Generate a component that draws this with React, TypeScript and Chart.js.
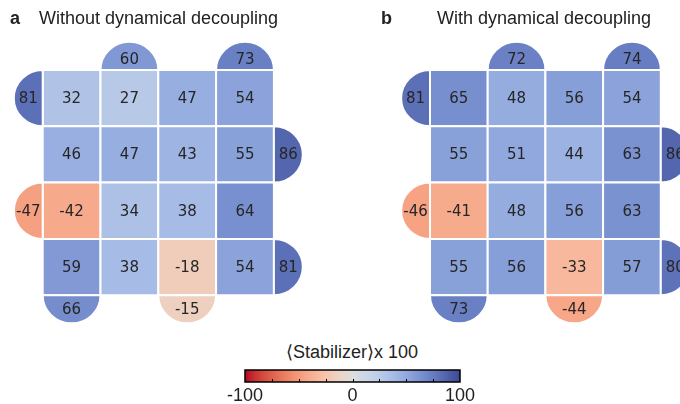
import React, { useEffect, useRef } from 'react';
import { Chart, registerables } from 'chart.js';

Chart.register(...registerables);

// ---- data ----
const GRID_A = [
  [32, 27, 47, 54],
  [46, 47, 43, 55],
  [-42, 34, 38, 64],
  [59, 38, -18, 54],
];
const TOP_A = [60, 73];
const LEFT_A = [81, -47];
const RIGHT_A = [86, 81];
const BOTTOM_A = [66, -15];

const GRID_B = [
  [65, 48, 56, 54],
  [55, 51, 44, 63],
  [-41, 48, 56, 63],
  [55, 56, -33, 57],
];
const TOP_B = [72, 74];
const LEFT_B = [81, -46];
const RIGHT_B = [86, 80];
const BOTTOM_B = [73, -44];

const TOP_COLS = [1, 3];
const LEFT_ROWS = [0, 2];
const RIGHT_ROWS = [1, 3];
const BOTTOM_COLS = [0, 2];

const CB_TICKS = [-100, -75, -50, -25, 0, 25, 50, 75, 100];
const CB_LABELS = [-100, 0, 100];

// ---- colormap (coolwarm reversed, blues muted as in the print) ----
const CW: number[][] = [
  [59, 76, 192], [68, 90, 204], [77, 104, 215], [87, 117, 225], [98, 130, 234],
  [108, 142, 241], [119, 154, 247], [130, 165, 251], [141, 176, 254], [152, 185, 255],
  [163, 194, 255], [174, 201, 253], [184, 208, 249], [194, 213, 244], [204, 217, 238],
  [213, 219, 230], [221, 221, 221], [229, 216, 209], [236, 211, 197], [241, 204, 185],
  [245, 196, 173], [247, 187, 160], [247, 177, 148], [247, 166, 135], [244, 154, 123],
  [241, 141, 111], [236, 127, 99], [229, 112, 88], [222, 96, 77], [213, 80, 66],
  [203, 62, 56], [192, 40, 47], [180, 4, 38],
];

function coolwarm(t: number): number[] {
  const tt = Math.max(0, Math.min(1, t)) * 32;
  const i = Math.min(31, Math.floor(tt));
  const f = tt - i;
  return [0, 1, 2].map((k) => CW[i][k] + (CW[i + 1][k] - CW[i][k]) * f);
}

function colorFor(v: number): string {
  let [r, g, b] = coolwarm((100 - v) / 200);
  if (v > 0) {
    const w = Math.min(1, v / 25);
    const s = 1 - 0.3 * w;
    const d = 1 - 0.07 * (v / 100);
    const lum = 0.299 * r + 0.587 * g + 0.114 * b;
    r = (lum + (r - lum) * s) * d;
    g = (lum + (g - lum) * s) * d;
    b = (lum + (b - lum) * s) * d;
  }
  return `rgb(${Math.round(r)},${Math.round(g)},${Math.round(b)})`;
}

type Pt = { x: number; y: number; v: number; side: string };

function buildPoints(grid: number[][], top: number[], left: number[], right: number[], bottom: number[]): Pt[] {
  const pts: Pt[] = [];
  grid.forEach((row, r) => row.forEach((v, c) => pts.push({ x: c + 0.5, y: r + 0.5, v, side: 'sq' })));
  top.forEach((v, i) => pts.push({ x: TOP_COLS[i] + 0.5, y: 0, v, side: 'top' }));
  left.forEach((v, i) => pts.push({ x: 0, y: LEFT_ROWS[i] + 0.5, v, side: 'left' }));
  right.forEach((v, i) => pts.push({ x: grid[0].length, y: RIGHT_ROWS[i] + 0.5, v, side: 'right' }));
  bottom.forEach((v, i) => pts.push({ x: BOTTOM_COLS[i] + 0.5, y: grid.length, v, side: 'bottom' }));
  return pts;
}

const cellPlugin = {
  id: 'cells',
  afterDatasetsDraw(chart: any) {
    const ctx = chart.ctx;
    const xs = chart.scales.x;
    const ys = chart.scales.y;
    const w = xs.getPixelForValue(1) - xs.getPixelForValue(0);
    const h = ys.getPixelForValue(1) - ys.getPixelForValue(0);
    const pts: Pt[] = chart.data.datasets[0].data;
    ctx.save();
    pts.forEach((p) => {
      const px = xs.getPixelForValue(p.x);
      const py = ys.getPixelForValue(p.y);
      ctx.beginPath();
      if (p.side === 'sq') ctx.rect(px - w / 2, py - h / 2, w, h);
      else if (p.side === 'top') ctx.ellipse(px, py, w / 2, h / 2, 0, Math.PI, 2 * Math.PI);
      else if (p.side === 'bottom') ctx.ellipse(px, py, w / 2, h / 2, 0, 0, Math.PI);
      else if (p.side === 'left') ctx.ellipse(px, py, w / 2, h / 2, 0, Math.PI / 2, (3 * Math.PI) / 2);
      else ctx.ellipse(px, py, w / 2, h / 2, 0, -Math.PI / 2, Math.PI / 2);
      ctx.closePath();
      ctx.fillStyle = colorFor(p.v);
      ctx.fill();
      ctx.strokeStyle = '#ffffff';
      ctx.lineWidth = 2;
      ctx.stroke();
    });
    ctx.fillStyle = '#262626';
    ctx.font = '15px "DejaVu Sans"';
    ctx.textAlign = 'center';
    ctx.textBaseline = 'middle';
    pts.forEach((p) => {
      let px = xs.getPixelForValue(p.x);
      let py = ys.getPixelForValue(p.y);
      if (p.side === 'top') py -= h * 0.2;
      else if (p.side === 'bottom') py += h * 0.24;
      else if (p.side === 'left') px -= w * 0.25;
      else if (p.side === 'right') px += w * 0.25;
      ctx.fillText(String(p.v), px, py + 1);
    });
    ctx.restore();
  },
};

const colorbarPlugin = {
  id: 'colorbar',
  afterDatasetsDraw(chart: any) {
    const ctx = chart.ctx;
    const xs = chart.scales.x;
    const area = chart.chartArea;
    const x0 = xs.getPixelForValue(-100);
    const x1 = xs.getPixelForValue(100);
    const grad = ctx.createLinearGradient(x0, 0, x1, 0);
    for (let v = -100; v <= 100; v += 5) grad.addColorStop((v + 100) / 200, colorFor(v));
    ctx.save();
    ctx.fillStyle = grad;
    ctx.fillRect(x0, area.top, x1 - x0, area.bottom - area.top);
    ctx.strokeStyle = '#000';
    ctx.lineWidth = 1;
    CB_TICKS.forEach((v) => {
      if (v === -100 || v === 100) return;
      const x = Math.round(xs.getPixelForValue(v)) + 0.5;
      ctx.beginPath();
      ctx.moveTo(x, area.bottom);
      ctx.lineTo(x, area.bottom - 3);
      ctx.stroke();
    });
    ctx.lineWidth = 1.5;
    ctx.strokeRect(x0, area.top, x1 - x0, area.bottom - area.top);
    ctx.restore();
  },
};

function Panel(props: { grid: number[][]; top: number[]; left: number[]; right: number[]; bottom: number[]; x0: number; cw: number; style: any }) {
  const ref = useRef<HTMLCanvasElement>(null);
  useEffect(() => {
    const W = 340, H = 330, Y0 = 70, CH = 56.3;
    const chart = new Chart(ref.current as HTMLCanvasElement, {
      type: 'scatter',
      data: {
        datasets: [{ data: buildPoints(props.grid, props.top, props.left, props.right, props.bottom) as any, pointRadius: 0 }],
      },
      options: {
        responsive: false,
        animation: false,
        devicePixelRatio: 1,
        layout: { padding: 0 },
        plugins: { legend: { display: false }, tooltip: { enabled: false } },
        scales: {
          x: { type: 'linear', display: false, min: -props.x0 / props.cw, max: (W - props.x0) / props.cw },
          y: { type: 'linear', display: false, reverse: true, min: -Y0 / CH, max: (H - Y0) / CH },
        },
      },
      plugins: [cellPlugin],
    });
    return () => chart.destroy();
  }, []);
  return <canvas ref={ref} width={340} height={330} style={{ position: 'absolute', ...props.style }} />;
}

function Colorbar() {
  const ref = useRef<HTMLCanvasElement>(null);
  useEffect(() => {
    const chart = new Chart(ref.current as HTMLCanvasElement, {
      type: 'scatter',
      data: { datasets: [{ data: [], pointRadius: 0 }] },
      options: {
        responsive: false,
        animation: false,
        devicePixelRatio: 1,
        layout: { padding: { left: 45, right: 40, top: 5, bottom: 0 } },
        plugins: { legend: { display: false }, tooltip: { enabled: false } },
        scales: {
          x: {
            type: 'linear',
            min: -100,
            max: 100,
            afterBuildTicks: (s: any) => {
              s.ticks = CB_TICKS.map((v) => ({ value: v }));
            },
            afterFit: (s: any) => {
              s.height = 26;
            },
            grid: { display: false, drawTicks: false },
            border: { display: false },
            ticks: {
              autoSkip: false,
              maxRotation: 0,
              padding: 3,
              color: '#222',
              font: { family: '"Liberation Sans", Arial, sans-serif', size: 18, lineHeight: 1.2 },
              callback: (v: any) => (CB_LABELS.includes(Number(v)) ? String(v) : ''),
            },
          },
          y: { type: 'linear', display: false, min: 0, max: 1 },
        },
      },
      plugins: [colorbarPlugin],
    });
    return () => chart.destroy();
  }, []);
  return <canvas ref={ref} width={300} height={43} style={{ position: 'absolute', left: 200, top: 365 }} />;
}

const textStyle: any = {
  position: 'absolute',
  fontFamily: '"Liberation Sans", Arial, sans-serif',
  fontSize: 18,
  lineHeight: '18px',
  color: '#222',
  whiteSpace: 'nowrap',
};

export default function App() {
  return (
    <div style={{ position: 'fixed', left: 0, top: 0, width: 680, height: 404, background: '#fff', overflow: 'hidden' }}>
      <Panel grid={GRID_A} top={TOP_A} left={LEFT_A} right={RIGHT_A} bottom={BOTTOM_A} x0={42.7} cw={57.8} style={{ left: 0, top: 0 }} />
      <Panel grid={GRID_B} top={TOP_B} left={LEFT_B} right={RIGHT_B} bottom={BOTTOM_B} x0={90} cw={57.7} style={{ left: 340, top: 0 }} />
      <div style={{ ...textStyle, left: 10, top: 9, fontWeight: 'bold' }}>a</div>
      <div style={{ ...textStyle, left: 39, top: 9 }}>Without dynamical decoupling</div>
      <div style={{ ...textStyle, left: 381, top: 9, fontWeight: 'bold' }}>b</div>
      <div style={{ ...textStyle, left: 437, top: 9 }}>With dynamical decoupling</div>
      <div style={{ ...textStyle, left: 252, width: 200, textAlign: 'center', top: 343 }}>⟨Stabilizer⟩x 100</div>
      <Colorbar />
    </div>
  );
}
